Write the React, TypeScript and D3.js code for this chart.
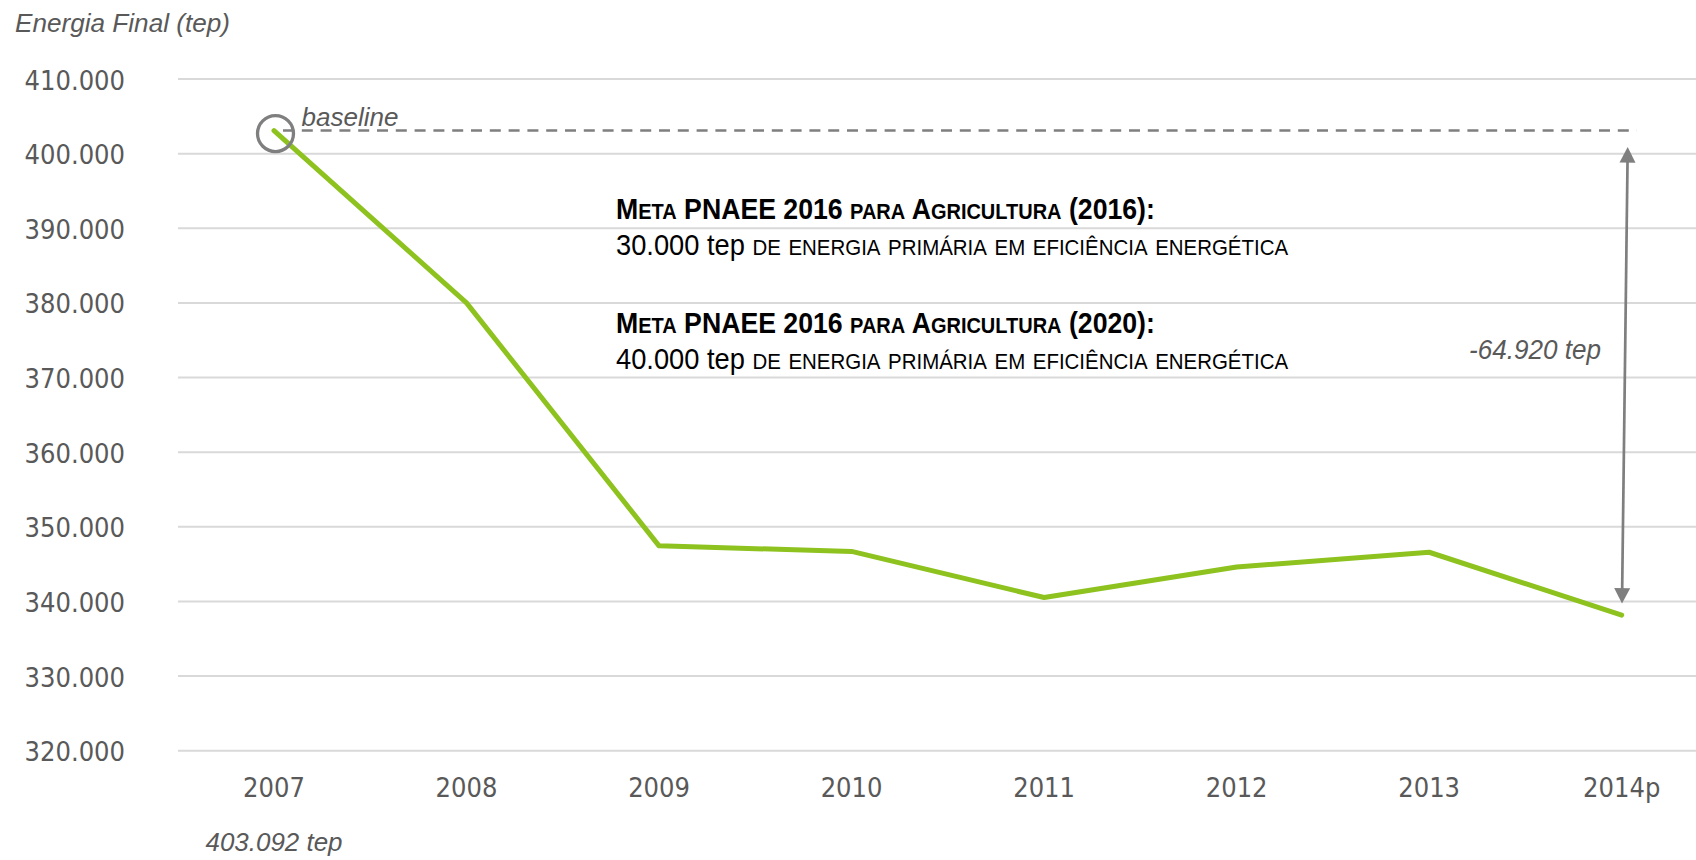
import React, { useLayoutEffect, useRef, useState } from 'react';
import * as d3 from 'd3';

// ---------- data ----------
const years: string[] = ['2007', '2008', '2009', '2010', '2011', '2012', '2013', '2014p'];
const energiaFinal: number[] = [403092, 380000, 347450, 346700, 340520, 344620, 346590, 338172];
const yTicks: number[] = [320000, 330000, 340000, 350000, 360000, 370000, 380000, 390000, 400000, 410000];

const yAxisTitle = 'Energia Final (tep)';
const baselineLabel = 'baseline';
const baselineValueLabel = '403.092 tep';
const deltaLabel = '-64.920 tep';

type Seg = { text: string; sc: boolean; bold: boolean };
const metaLines: Seg[][] = [
  [{ text: 'Meta PNAEE 2016 para Agricultura (2016):', sc: true, bold: true }],
  [
    { text: '30.000 tep', sc: false, bold: false },
    { text: ' de energia primária em eficiência energética', sc: true, bold: false },
  ],
  [{ text: 'Meta PNAEE 2016 para Agricultura (2020):', sc: true, bold: true }],
  [
    { text: '40.000 tep', sc: false, bold: false },
    { text: ' de energia primária em eficiência energética', sc: true, bold: false },
  ],
];

// ---------- layout ----------
const W = 1696;
const H = 860;
const GRID_X0 = 178;
const X_FIRST = 274;
const X_LAST = 1621.7;
const Y_BOTTOM = 750.7;
const Y_TOP = 79;

const AXIS_FONT = "'DejaVu Sans Condensed', 'DejaVu Sans', sans-serif";
const ITALIC_FONT = "'Liberation Sans', Arial, sans-serif";
const NARROW_FONT = "'Liberation Sans Narrow', 'Arial Narrow', 'Liberation Sans', Arial, sans-serif";
const GREY_TEXT = '#595959';
const GRID = '#d9d9d9';
const GREEN = '#8dc21f';
const ANN = '#7f7f7f';

const BIG = 30;
const SMALL = 22.5;

function renderSegs(segs: Seg[]) {
  const out: React.ReactNode[] = [];
  let k = 0;
  segs.forEach((s) => {
    if (!s.sc) {
      out.push(
        <tspan key={k++} fontSize={BIG} fontWeight={s.bold ? 'bold' : 'normal'}>
          {s.text}
        </tspan>
      );
      return;
    }
    const runs = s.text.match(/([a-zà-ÿ]+|[^a-zà-ÿ]+)/g) || [];
    runs.forEach((r) => {
      const lower = /^[a-zà-ÿ]/.test(r);
      out.push(
        <tspan key={k++} fontSize={lower ? SMALL : BIG} fontWeight={s.bold ? 'bold' : 'normal'}>
          {lower ? r.toUpperCase() : r}
        </tspan>
      );
    });
  });
  return out;
}

function ScaledLine({ x, y, width, segs }: { x: number; y: number; width: number; segs: Seg[] }) {
  const ref = useRef<SVGTextElement>(null);
  const [sx, setSx] = useState(0.85);
  useLayoutEffect(() => {
    if (ref.current) {
      const w = ref.current.getBBox().width;
      if (w > 0) setSx(width / w);
    }
  }, [width]);
  return (
    <g transform={`translate(${x},${y}) scale(${sx},1)`}>
      <text ref={ref} x={0} y={0} fontFamily={NARROW_FONT} fill="#000">
        {renderSegs(segs)}
      </text>
    </g>
  );
}

function arrowHead(tx: number, ty: number, dx: number, dy: number, len: number, half: number) {
  const n = Math.hypot(dx, dy);
  const ux = dx / n;
  const uy = dy / n;
  const bx = tx - ux * len;
  const by = ty - uy * len;
  const px = -uy;
  const py = ux;
  return `M${tx},${ty}L${bx + px * half},${by + py * half}L${bx - px * half},${by - py * half}Z`;
}

export default function App() {
  const x = d3.scalePoint<string>().domain(years).range([X_FIRST, X_LAST]);
  const y = d3.scaleLinear().domain([320000, 410000]).range([Y_BOTTOM, Y_TOP]);
  const fmt = (v: number) => d3.format(',')(v).replace(/,/g, '.');

  const linePath = d3
    .line<number>()
    .x((_, i) => x(years[i]) as number)
    .y((d) => y(d))(energiaFinal) as string;

  const first = energiaFinal[0];
  const last = energiaFinal[energiaFinal.length - 1];
  const xFirst = x(years[0]) as number;
  const xLast = x(years[years.length - 1]) as number;
  const yBase = y(first);
  const yLast = y(last);

  const topTip = { x: xLast + 6, y: yBase + 16.5 };
  const botTip = { x: xLast + 0.3, y: yLast - 11.5 };
  const dx = botTip.x - topTip.x;
  const dy = botTip.y - topTip.y;
  const dn = Math.hypot(dx, dy);
  const headLen = 15.5;

  const metaY = [219, 255, 333.3, 369.3];
  const metaW = [539, 672, 539, 672];

  return (
    <svg
      width={W}
      height={H}
      viewBox={`0 0 ${W} ${H}`}
      style={{ position: 'absolute', left: 0, top: 0, background: '#fff' }}
    >
      <rect x={0} y={0} width={W} height={H} fill="#fff" />

      {yTicks.map((t) => (
        <line key={`g${t}`} x1={GRID_X0} x2={W} y1={y(t)} y2={y(t)} stroke={GRID} strokeWidth={2} />
      ))}

      {yTicks.map((t) => (
        <text
          key={`yt${t}`}
          x={125}
          y={y(t) + 10.5}
          textAnchor="end"
          fontFamily={AXIS_FONT}
          fontSize={27}
          fill={GREY_TEXT}
        >
          {fmt(t)}
        </text>
      ))}

      {years.map((c) => (
        <text
          key={`xt${c}`}
          x={x(c) as number}
          y={797}
          textAnchor="middle"
          fontFamily={AXIS_FONT}
          fontSize={27}
          fill={GREY_TEXT}
        >
          {c}
        </text>
      ))}

      <text
        x={15}
        y={32}
        fontFamily={ITALIC_FONT}
        fontStyle="italic"
        fontSize={26}
        fill={GREY_TEXT}
        textLength={215}
        lengthAdjust="spacingAndGlyphs"
      >
        {yAxisTitle}
      </text>

      <line
        x1={xFirst + 9}
        x2={xLast + 15}
        y1={yBase}
        y2={yBase}
        stroke={ANN}
        strokeWidth={2.6}
        strokeDasharray="11 7.8"
      />

      <path
        d={linePath}
        fill="none"
        stroke={GREEN}
        strokeWidth={5}
        strokeLinejoin="round"
        strokeLinecap="round"
      />

      <circle cx={xFirst + 1.5} cy={yBase + 3} r={18} fill="none" stroke={ANN} strokeWidth={3.3} />

      <text
        x={301.5}
        y={126}
        fontFamily={ITALIC_FONT}
        fontStyle="italic"
        fontSize={26}
        fill={GREY_TEXT}
        textLength={97}
        lengthAdjust="spacingAndGlyphs"
      >
        {baselineLabel}
      </text>

      <text
        x={xFirst}
        y={851}
        textAnchor="middle"
        fontFamily={ITALIC_FONT}
        fontStyle="italic"
        fontSize={26}
        fill={GREY_TEXT}
        textLength={137}
        lengthAdjust="spacingAndGlyphs"
      >
        {baselineValueLabel}
      </text>

      <line
        x1={topTip.x + (dx / dn) * (headLen - 2)}
        y1={topTip.y + (dy / dn) * (headLen - 2)}
        x2={botTip.x - (dx / dn) * (headLen - 2)}
        y2={botTip.y - (dy / dn) * (headLen - 2)}
        stroke={ANN}
        strokeWidth={2.7}
      />
      <path d={arrowHead(topTip.x, topTip.y, -dx, -dy, headLen, 8)} fill={ANN} />
      <path d={arrowHead(botTip.x, botTip.y, dx, dy, headLen, 8)} fill={ANN} />

      <text
        x={1601}
        y={359}
        textAnchor="end"
        fontFamily={ITALIC_FONT}
        fontStyle="italic"
        fontSize={27}
        fill={GREY_TEXT}
        textLength={132}
        lengthAdjust="spacingAndGlyphs"
      >
        {deltaLabel}
      </text>

      {metaLines.map((segs, i) => (
        <ScaledLine key={`m${i}`} x={616} y={metaY[i]} width={metaW[i]} segs={segs} />
      ))}
    </svg>
  );
}
